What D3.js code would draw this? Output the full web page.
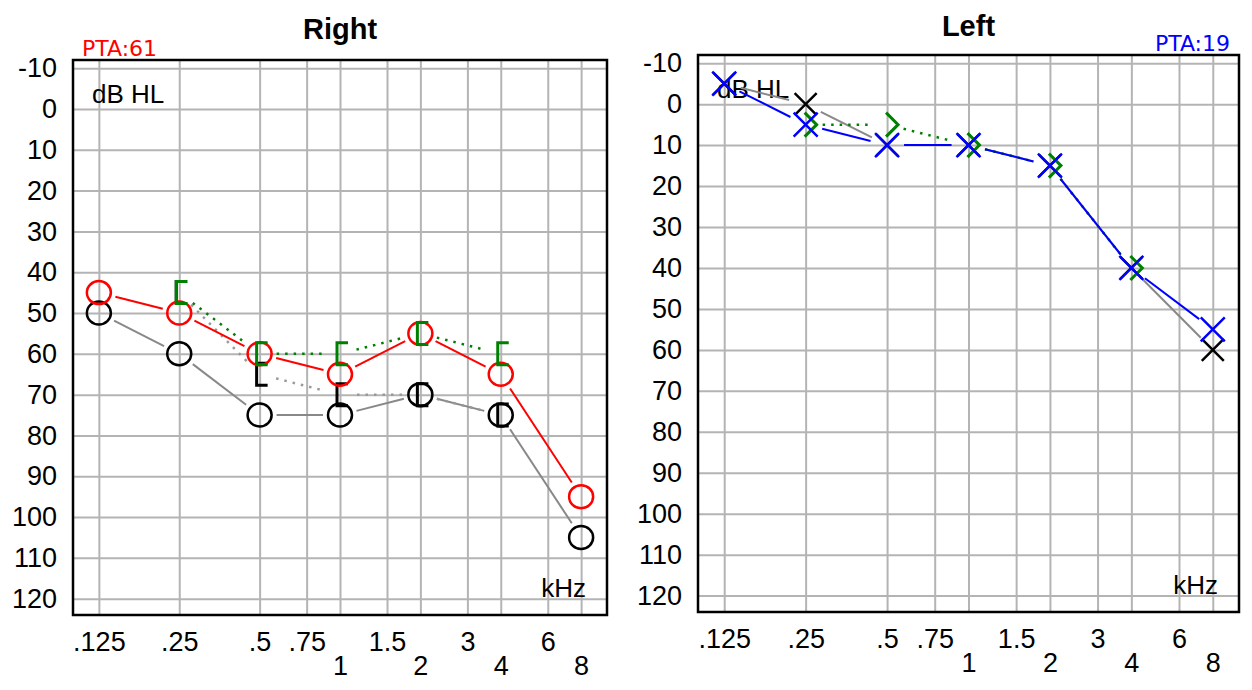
<!DOCTYPE html>
<html>
<head>
<meta charset="utf-8">
<script src="https://cdn.jsdelivr.net/npm/d3@7"></script>
<style>
body{margin:0;background:#fff;}
svg{display:block;font-family:"Liberation Sans",Arial,sans-serif;}
</style>
</head>
<body>
<svg id="chart" width="1252" height="690"></svg>
<script>
// grid and tick labels
var gridFreqs=[0.125,0.25,0.5,0.75,1,1.5,2,3,4,6,8];
var upperFreqs=[0.125,0.25,0.5,0.75,1.5,3,6];
var upperLabels=['.125','.25','.5','.75','1.5','3','6'];
var lowerFreqs=[1,2,4,8];
var lowerLabels=['1','2','4','8'];
var dbTicks=[-10,0,10,20,30,40,50,60,70,80,90,100,110,120];

// right ear
var rightFreqs=[0.125,0.25,0.5,1,2,4,8];
var rightAir=[45,50,60,65,55,65,95];          // red circles
var rightAirBlack=[50,60,75,75,70,75,105];    // black circles
var rightBoneFreqs=[0.25,0.5,1,2,4];
var rightBone=[45,60,60,55,60];               // green [
var rightBoneBlack=[45,65,70,70,75];          // black [

// left ear
var leftFreqs=[0.125,0.25,0.5,1,2,4,8];
var leftAir=[-5,5,10,10,15,40,55];            // blue X
var leftAirBlack=[-5,0,10,10,15,40,60];       // black X
var leftBoneFreqs=[0.25,0.5,1,2,4];
var leftBone=[5,5,10,15,40];                  // green >

var svg=d3.select('#chart');

function drawPanel(o){
	var x=d3.scaleLog().domain([0.1,10]).range([o.x0,o.x1]),
		y=d3.scaleLinear().domain([-12,124]).range([o.y0,o.y1]),
		g=svg.append('g'),
		w=o.x1-o.x0,h=o.y1-o.y0;

	// grid lines
	var gx=g.append('g').attr('transform','translate(0,'+o.y1+')')
		.call(d3.axisBottom(x).tickValues(gridFreqs).tickSize(-h).tickFormat(''));
	var gy=g.append('g').attr('transform','translate('+o.x0+',0)')
		.call(d3.axisLeft(y).tickValues(dbTicks).tickSize(-w).tickFormat(''));
	[gx,gy].forEach(function(a){
		a.select('.domain').remove();
		a.selectAll('line').attr('stroke','#b4b4b4').attr('stroke-width',2);
	});

	g.append('rect').attr('x',o.x0).attr('y',o.y0).attr('width',w).attr('height',h)
		.attr('fill','none').attr('stroke','#000').attr('stroke-width',2.5);

	// tick labels
	var ly=g.append('g').attr('transform','translate('+o.x0+',0)')
		.call(d3.axisLeft(y).tickValues(dbTicks).tickSize(0).tickPadding(16)
			.tickFormat(function(d){return String(d);}));
	var l1=g.append('g').attr('transform','translate(0,'+o.y1+')')
		.call(d3.axisBottom(x).tickValues(upperFreqs).tickSize(0).tickPadding(17)
			.tickFormat(function(d,i){return upperLabels[i];}));
	var l2=g.append('g').attr('transform','translate(0,'+o.y1+')')
		.call(d3.axisBottom(x).tickValues(lowerFreqs).tickSize(0).tickPadding(41)
			.tickFormat(function(d,i){return lowerLabels[i];}));
	[ly,l1,l2].forEach(function(a){
		a.select('.domain').remove();
		a.attr('font-size',27).attr('font-family',null);
		a.selectAll('text').attr('fill','#000');
	});

	g.append('text').attr('x',(o.x0+o.x1)/2).attr('y',o.titleY)
		.attr('text-anchor','middle').attr('font-size',29).attr('font-weight','bold').text(o.title);
	g.append('text').attr('x',o.x0+19).attr('y',o.y0+43).attr('font-size',26).text('dB HL');
	g.append('text').attr('x',o.x1-21).attr('y',o.y1-18).attr('text-anchor','end')
		.attr('font-size',26).text('kHz');
	g.append('text').attr('x',o.ptaX).attr('y',o.y0-4).attr('text-anchor',o.ptaAnchor)
		.attr('font-family','DejaVu Sans').attr('font-size',22).attr('fill',o.ptaColor).text(o.pta);

	return {g:g,x:x,y:y};
}

function points(p,freqs,vals){
	return freqs.map(function(f,i){return [p.x(f),p.y(vals[i])];});
}

// lines between markers, leaving a gap round each symbol
function link(p,pts,color,width,dash){
	var gap=17,i,a,b,dx,dy,len;
	for(i=0;i<pts.length-1;i++){
		a=pts[i];b=pts[i+1];
		dx=b[0]-a[0];dy=b[1]-a[1];len=Math.sqrt(dx*dx+dy*dy);
		if(len<=2*gap) continue;
		p.g.append('line')
			.attr('x1',a[0]+dx/len*gap).attr('y1',a[1]+dy/len*gap)
			.attr('x2',b[0]-dx/len*gap).attr('y2',b[1]-dy/len*gap)
			.attr('stroke',color).attr('stroke-width',width)
			.attr('stroke-dasharray',dash||null);
	}
}

function marks(p,pts,shape,color,width){
	p.g.selectAll(null).data(pts).enter().append('path')
		.attr('transform',function(d){return 'translate('+d[0]+','+d[1]+')';})
		.attr('d',shape).attr('fill','none').attr('stroke',color).attr('stroke-width',width);
}

var circle='M12,0A12,11.5 0 1,1 -12,0A12,11.5 0 1,1 12,0Z',
	bracket='M8,-11L-3,-11L-3,11L8,11',
	cross=function(s){return 'M'+(-s)+','+(-s)+'L'+s+','+s+'M'+(-s)+','+s+'L'+s+','+(-s);},
	chevron='M-1,-12L11,0L-1,12';

// Right
var R=drawPanel({title:'Right',x0:73,x1:607,y0:60,y1:615,titleY:39,
	pta:'PTA:61',ptaColor:'#f00',ptaAnchor:'start',ptaX:82});
var rBlk=points(R,rightFreqs,rightAirBlack),
	rRed=points(R,rightFreqs,rightAir),
	rBk=points(R,rightBoneFreqs,rightBoneBlack),
	rGr=points(R,rightBoneFreqs,rightBone);
link(R,rBlk,'#888',2);
link(R,rBk,'#999',2.5,'2.5,6');
marks(R,rBlk,circle,'#000',2.5);
marks(R,rBk,bracket,'#000',3);
link(R,rGr,'#008000',2.5,'2.5,6');
link(R,rRed,'#f00',2);
marks(R,rRed,circle,'#f00',2.5);
marks(R,rGr,bracket,'#008000',3);

// Left
var L=drawPanel({title:'Left',x0:698,x1:1239,y0:55,y1:612,titleY:36,
	pta:'PTA:19',ptaColor:'#00f',ptaAnchor:'end',ptaX:1230});
var lBlk=points(L,leftFreqs,leftAirBlack),
	lBlue=points(L,leftFreqs,leftAir),
	lGr=points(L,leftBoneFreqs,leftBone);
link(L,lBlk,'#888',2);
marks(L,lBlk,cross(11),'#000',2.5);
link(L,lGr,'#008000',2.5,'2.5,6');
marks(L,lGr,chevron,'#008000',3);
link(L,lBlue,'#00f',2);
marks(L,lBlue,cross(12),'#00f',2.5);
</script>
</body>
</html>
